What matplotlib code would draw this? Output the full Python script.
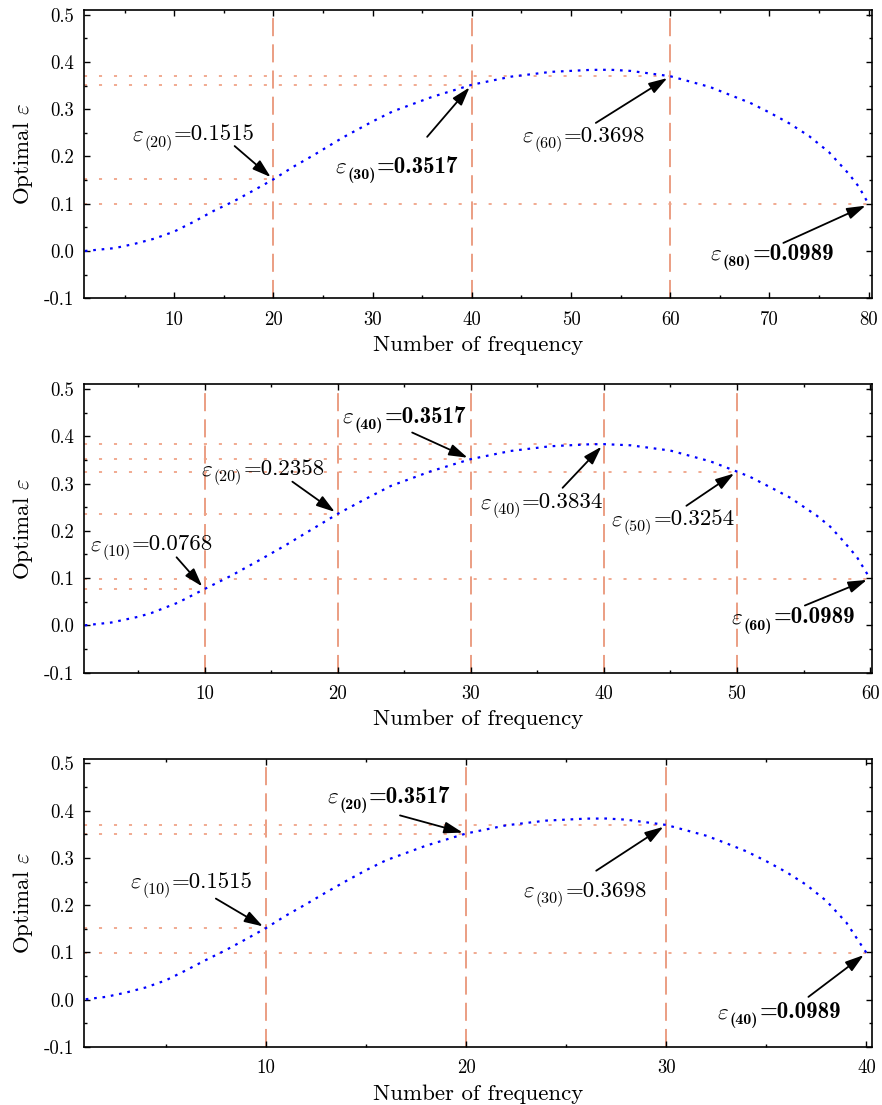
import matplotlib
matplotlib.use("Agg")
import matplotlib.pyplot as plt
from matplotlib.ticker import MultipleLocator, FuncFormatter

plt.rcParams["font.family"] = "serif"
plt.rcParams["font.serif"] = ["cmr10"]
plt.rcParams["mathtext.fontset"] = "cm"
plt.rcParams["axes.formatter.use_mathtext"] = True

# curve values (n, optimal eps)
top_n = [1, 4, 6, 8, 10, 12, 14, 16, 18, 20, 22, 24, 27, 30, 32, 36, 40, 44,
         48, 52, 54, 56, 60, 64, 67, 68, 70, 72, 74, 76, 78, 79, 80]
top_eps = [0.000, 0.006, 0.015, 0.026, 0.041, 0.062, 0.085, 0.105, 0.128,
           0.1515, 0.178, 0.202, 0.240, 0.274, 0.295, 0.326, 0.3517, 0.369,
           0.379, 0.3832, 0.3834, 0.381, 0.3698, 0.347, 0.322, 0.314, 0.293,
           0.270, 0.243, 0.209, 0.163, 0.136, 0.0989]

mid_n = [1, 3, 5, 6, 8, 10, 12, 14, 16, 18, 20, 22, 24, 27, 30, 33, 36, 39,
         40, 42, 45, 48, 50, 51, 53, 54, 56, 57, 58, 59, 60]
mid_eps = [0.000, 0.006, 0.018, 0.026, 0.048, 0.0768, 0.105, 0.136, 0.168,
           0.202, 0.2358, 0.266, 0.295, 0.326, 0.3517, 0.369, 0.379, 0.3832,
           0.3834, 0.381, 0.3698, 0.347, 0.3254, 0.314, 0.285, 0.270, 0.232,
           0.209, 0.178, 0.145, 0.0989]

bot_n = [1, 2, 3, 4, 5, 6, 7, 8, 9, 10, 11, 12, 13, 14, 15, 16, 18, 20, 22,
         24, 26, 27, 28, 30, 32, 33, 34, 35, 36, 37, 38, 39, 40]
bot_eps = [0.001, 0.006, 0.015, 0.026, 0.041, 0.062, 0.084, 0.105, 0.128,
           0.1515, 0.178, 0.202, 0.227, 0.251, 0.274, 0.295, 0.326, 0.3517,
           0.369, 0.379, 0.3832, 0.3834, 0.381, 0.3698, 0.347, 0.331, 0.314,
           0.293, 0.270, 0.243, 0.209, 0.163, 0.0989]

# marked points: x, value, subscript shown in the label, bold or not
top_mark_x = [20, 40, 60, 80]
top_mark_y = [0.1515, 0.3517, 0.3698, 0.0989]
top_subs = ["20", "30", "60", "80"]
top_bold = [False, True, False, True]

mid_mark_x = [10, 20, 30, 40, 50, 60]
mid_mark_y = [0.0768, 0.2358, 0.3517, 0.3834, 0.3254, 0.0989]
mid_subs = ["10", "20", "40", "40", "50", "60"]
mid_bold = [False, False, True, False, False, True]

bot_mark_x = [10, 20, 30, 40]
bot_mark_y = [0.1515, 0.3517, 0.3698, 0.0989]
bot_subs = ["10", "20", "30", "40"]
bot_bold = [False, True, False, True]

# layout: label centre (x) / baseline (y) and arrow tails
top_text_pos = [(12.1, 0.234), (32.55, 0.165), (51.4, 0.231), (70.4, -0.019)]
top_tail_pos = [(16.1, 0.222), (35.5, 0.2415), (52.5, 0.271), (71.4, 0.017)]
mid_text_pos = [(6.1, 0.159), (14.5, 0.318), (25.1, 0.429), (35.4, 0.248),
                (45.3, 0.212), (54.3, 0.004)]
mid_tail_pos = [(7.9, 0.144), (16.6, 0.304), (25.6, 0.408), (36.9, 0.291),
                (46.2, 0.253), (55.1, 0.042)]
bot_text_pos = [(6.34, 0.237), (16.2, 0.417), (26.0, 0.218), (35.7, -0.039)]
bot_tail_pos = [(7.5, 0.214), (16.7, 0.39), (26.5, 0.273), (37.1, 0.006)]

panels = [
    (top_n, top_eps, top_mark_x, top_mark_y, top_subs, top_bold,
     top_text_pos, top_tail_pos, (0.95, 80.3)),
    (mid_n, mid_eps, mid_mark_x, mid_mark_y, mid_subs, mid_bold,
     mid_text_pos, mid_tail_pos, (0.97, 60.12)),
    (bot_n, bot_eps, bot_mark_x, bot_mark_y, bot_subs, bot_bold,
     bot_text_pos, bot_tail_pos, (0.93, 40.26)),
]

SALMON = "#e9967a"
LIGHT_SALMON = "#f0a488"
LABEL_FS = 16.5
SPLIT = -15      # points from label centre to the "=" sign
SUB_DROP = 4.5   # subscript drop in points

fig, axes = plt.subplots(3, 1, figsize=(8.82, 11.05), dpi=100)
fig.subplots_adjust(left=0.0956, right=0.9883, top=0.991, bottom=0.0525,
                    hspace=0.2986)
renderer = fig.canvas.get_renderer()


def label(ax, tx, ty, sub, value, bold):
    fam = "cmb10" if bold else "cmr10"
    ax.annotate(f"={value:.4f}", xy=(tx, ty), xytext=(SPLIT, 0),
                textcoords="offset points", ha="left", va="baseline",
                fontsize=LABEL_FS, family=fam, zorder=4)
    s = ax.annotate(f"({sub})", xy=(tx, ty), xytext=(SPLIT - 1, -SUB_DROP),
                    textcoords="offset points", ha="right", va="baseline",
                    fontsize=LABEL_FS * 0.7, family=fam, zorder=4)
    w = s.get_window_extent(renderer).width * 72 / fig.dpi
    ax.annotate(r"$\varepsilon$", xy=(tx, ty), xytext=(SPLIT - 1.5 - w, 0),
                textcoords="offset points", ha="right", va="baseline",
                fontsize=LABEL_FS, zorder=4)


for ax, (n, eps, mx, my, subs, bold, tpos, tail, xlim) in zip(axes, panels):
    ax.set_xlim(*xlim)
    ax.set_ylim(-0.1, 0.51)

    for x in mx[:-1]:
        ax.axvline(x, color=SALMON, lw=1.3, ls=(0, (10, 4.5)), zorder=1)
    for x, y in zip(mx, my):
        ax.hlines(y, xlim[0], x, color=LIGHT_SALMON, lw=1.3,
                  ls=(0, (1.7, 6.6)), zorder=1)

    ax.plot(n, eps, color="#0000ff", lw=1.6, ls=(0, (1.2, 2.6)), zorder=2)

    for x, y, sub, b, (tx, ty), (ax_, ay) in zip(mx, my, subs, bold, tpos, tail):
        label(ax, tx, ty, sub, y, b)
        ax.annotate("", xy=(x, y), xytext=(ax_, ay),
                    arrowprops=dict(arrowstyle="-|>,head_length=0.7,head_width=0.22",
                                    color="k", lw=1.3, mutation_scale=16,
                                    shrinkA=0, shrinkB=2.5),
                    zorder=5)

    ax.xaxis.set_major_locator(MultipleLocator(10))
    ax.xaxis.set_minor_locator(MultipleLocator(5))
    ax.yaxis.set_major_locator(MultipleLocator(0.1))
    ax.yaxis.set_minor_locator(MultipleLocator(0.05))
    ax.xaxis.set_major_formatter(FuncFormatter(lambda v, p: f"{v:.0f}"))
    ax.yaxis.set_major_formatter(FuncFormatter(lambda v, p: f"{v:.1f}"))
    ax.tick_params(which="both", direction="in", top=True, right=True,
                   width=1.0, labelsize=13.5)
    ax.tick_params(which="major", length=4.5)
    ax.tick_params(which="minor", length=2.3)
    ax.tick_params(axis="x", pad=9)
    ax.tick_params(axis="y", pad=7.5)
    for s in ax.spines.values():
        s.set_linewidth(1.2)

    ax.set_xlabel("Number of frequency", fontsize=16.5, labelpad=5)
    ax.set_ylabel(r"Optimal $\varepsilon$", fontsize=16.5, labelpad=6)

fig.savefig("out.png", dpi=100)
